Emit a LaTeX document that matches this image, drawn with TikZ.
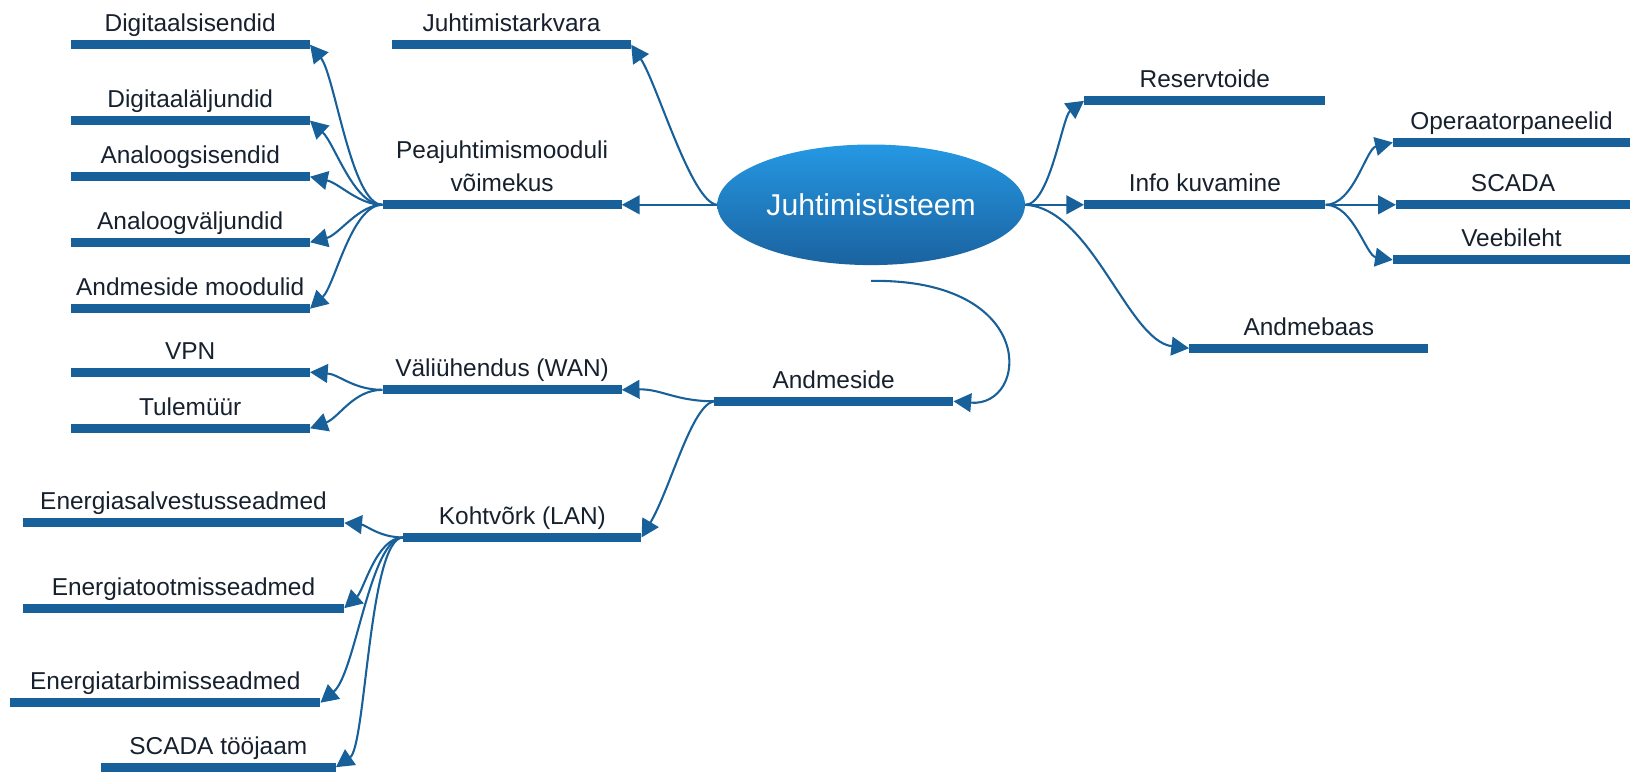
\documentclass[tikz,border=0pt]{standalone}
\usepackage{fontspec}
\setmainfont{Liberation Sans}
\usetikzlibrary{arrows.meta,shapes.geometric}
\definecolor{barblue}{HTML}{17609A}
\definecolor{txtdark}{HTML}{17212E}
\definecolor{elltop}{HTML}{2598E3}
\definecolor{ellbot}{HTML}{1A629F}
\begin{document}
\begin{tikzpicture}[x=1pt,y=-1pt,
  bar/.style={rectangle,fill=barblue,inner sep=0pt,minimum height=8.5pt},
  lbl/.style={anchor=base,text=txtdark,font=\fontsize{23.5}{26}\selectfont,inner sep=0pt},
  conn/.style={draw=barblue,line width=2pt,-{Triangle[length=17pt,width=18pt]}}]
\useasboundingbox (0,0) rectangle (1568,742);

% central topic
\node[ellipse,minimum width=296pt,minimum height=116pt,top color=elltop,bottom color=ellbot,
  text=white,font=\fontsize{29}{32}\selectfont] (ell) at (838,197) {Juhtimisüsteem};
\coordinate (cb) at ([yshift=-15pt]ell.south);

% branch bars
\node[bar,minimum width=230pt] (dig) at (183,43) {};
\node[bar,minimum width=230pt] (jtk) at (492,43) {};
\node[bar,minimum width=230pt] (dae) at (183,116) {};
\node[bar,minimum width=230pt] (ans) at (183,170) {};
\node[bar,minimum width=230pt] (pea) at (483,197) {};
\node[bar,minimum width=230pt] (anv) at (183,233) {};
\node[bar,minimum width=230pt] (amo) at (183,297) {};
\node[bar,minimum width=232pt] (res) at (1159,97) {};
\node[bar,minimum width=232pt] (inf) at (1159,197) {};
\node[bar,minimum width=228pt] (ope) at (1454,137) {};
\node[bar,minimum width=225pt] (sca) at (1455.5,197) {};
\node[bar,minimum width=228pt] (vee) at (1454,250) {};
\node[bar,minimum width=230pt] (amb) at (1259,335) {};
\node[bar,minimum width=230pt] (vpn) at (183,358) {};
\node[bar,minimum width=230pt] (val) at (483,375) {};
\node[bar,minimum width=230pt] (ams) at (802,386) {};
\node[bar,minimum width=230pt] (tul) at (183,412) {};
\node[bar,minimum width=309pt] (ens) at (176.5,503) {};
\node[bar,minimum width=229pt] (koh) at (502.5,517) {};
\node[bar,minimum width=309pt] (ent) at (176.5,585) {};
\node[bar,minimum width=298pt] (enb) at (159,676) {};
\node[bar,minimum width=226pt] (sct) at (210,738) {};

% labels
\node[lbl] at ([yshift=12.5pt]dig.center) {Digitaalsisendid};
\node[lbl] at ([yshift=12.5pt]jtk.center) {Juhtimistarkvara};
\node[lbl] at ([yshift=12.5pt]dae.center) {Digitaaläljundid};
\node[lbl] at ([yshift=12.5pt]ans.center) {Analoogsisendid};
\node[lbl] at ([yshift=44.5pt]pea.center) {Peajuhtimismooduli};
\node[lbl] at ([yshift=12.5pt]pea.center) {võimekus};
\node[lbl] at ([yshift=12.5pt]anv.center) {Analoogväljundid};
\node[lbl] at ([yshift=12.5pt]amo.center) {Andmeside moodulid};
\node[lbl] at ([yshift=12.5pt]res.center) {Reservtoide};
\node[lbl] at ([yshift=12.5pt]inf.center) {Info kuvamine};
\node[lbl] at ([yshift=12.5pt]ope.center) {Operaatorpaneelid};
\node[lbl] at ([yshift=12.5pt]sca.center) {SCADA};
\node[lbl] at ([yshift=12.5pt]vee.center) {Veebileht};
\node[lbl] at ([yshift=12.5pt]amb.center) {Andmebaas};
\node[lbl] at ([yshift=12.5pt]vpn.center) {VPN};
\node[lbl] at ([yshift=12.5pt]val.center) {Väliühendus (WAN)};
\node[lbl] at ([yshift=12.5pt]ams.center) {Andmeside};
\node[lbl] at ([yshift=12.5pt]tul.center) {Tulemüür};
\node[lbl] at ([yshift=12.5pt]ens.center) {Energiasalvestusseadmed};
\node[lbl] at ([yshift=12.5pt]koh.center) {Kohtvõrk (LAN)};
\node[lbl] at ([yshift=12.5pt]ent.center) {Energiatootmisseadmed};
\node[lbl] at ([yshift=12.5pt]enb.center) {Energiatarbimisseadmed};
\node[lbl] at ([yshift=12.5pt]sct.center) {SCADA tööjaam};

% connectors from the central topic
\draw[conn] (ell.west) .. controls (665,195) and (632,80) .. (jtk.east);
\draw[conn] (ell.west) -- (pea.east);
\draw[conn] (ell.east) .. controls (1010,197) and (1022,112) .. (res.west);
\draw[conn] (ell.east) -- (inf.west);
\draw[conn] (ell.east) .. controls (1050,200) and (1085,328) .. (amb.west);
\draw[conn] (cb) .. controls (1000,268) and (990,392) .. (ams.east);

% Peajuhtimismooduli võimekus
\draw[conn] (pea.west) .. controls (338,197) and (322,72) .. (dig.east);
\draw[conn] (pea.west) .. controls (340,197) and (322,138) .. (dae.east);
\draw[conn] (pea.west) .. controls (345,197) and (326,176) .. (ans.east);
\draw[conn] (pea.west) .. controls (345,197) and (326,226) .. (anv.east);
\draw[conn] (pea.west) .. controls (338,197) and (322,275) .. (amo.east);

% Info kuvamine
\draw[conn] (inf.east) .. controls (1302,197) and (1314,143) .. (ope.west);
\draw[conn] (inf.east) -- (sca.west);
\draw[conn] (inf.east) .. controls (1302,197) and (1314,246) .. (vee.west);

% Andmeside
\draw[conn] (ams.west) .. controls (650,386) and (636,374) .. (val.east);
\draw[conn] (ams.west) .. controls (665,390) and (645,470) .. (koh.east);

% Väliühendus (WAN)
\draw[conn] (val.west) .. controls (340,375) and (326,360) .. (vpn.east);
\draw[conn] (val.west) .. controls (340,375) and (326,402) .. (tul.east);

% Kohtvõrk (LAN)
\draw[conn] (koh.west) .. controls (365,517) and (352,505) .. (ens.east);
\draw[conn] (koh.west) .. controls (362,517) and (350,568) .. (ent.east);
\draw[conn] (koh.west) .. controls (356,517) and (342,648) .. (enb.east);
\draw[conn] (koh.west) .. controls (355,517) and (352,718) .. (sct.east);
\end{tikzpicture}
\end{document}
